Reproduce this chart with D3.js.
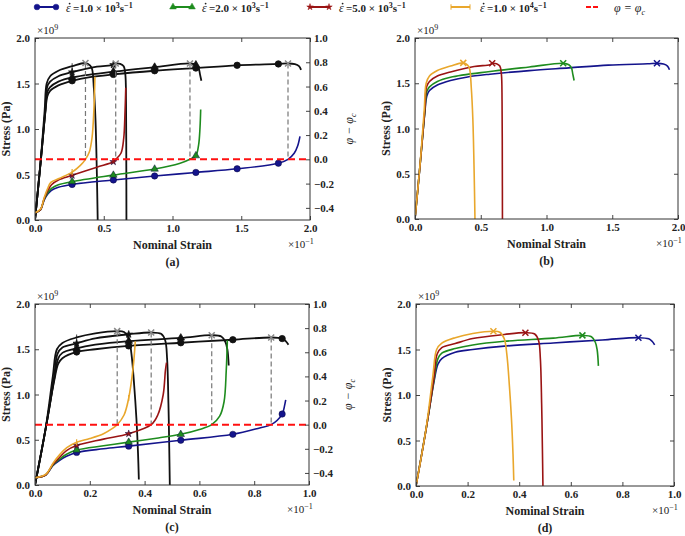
<!DOCTYPE html>
<html>
<head>
<meta charset="utf-8">
<script src="https://cdn.jsdelivr.net/npm/d3@7"></script>
<style>
body { margin: 0; background: #fff; }
svg text { font-family: "Liberation Serif", "DejaVu Serif", serif; font-weight: bold; fill: #222; }
.tick text { font-size: 11px; }
.tick line { stroke: #444; }
</style>
</head>
<body>
<div id="viz"></div>
<script>
"use strict";

var w = 685;
var h = 536;

// strain in 1e-1, stress in 1e9 Pa, phi - phi_c on right axis; third value 1 = marker
var rateNames = ["1.0", "2.0", "5.0", "1.0"];
var ratePowers = ["3", "3", "3", "4"];
var rateColors = ["#14148c", "#1e8c1e", "#9a1414", "#e9a72c"];
var rateMarkers = ["circle", "triangle", "star", "bar"];

// panels (a) and (b): long specimen
var stressAB_1e3 = [[0,0],[0.04,0.62],[0.075,1.18],[0.09,1.36],[0.11,1.42],[0.17,1.48],[0.27,1.53,1],[0.4,1.57],[0.57,1.60,1],[0.87,1.64,1],[1.17,1.67,1],[1.47,1.70,1],[1.77,1.715,1],[1.84,1.72],[1.89,1.712],[1.92,1.69],[1.935,1.65]];
var stressAB_2e3 = [[0,0],[0.04,0.62],[0.075,1.19],[0.09,1.41],[0.11,1.46],[0.17,1.52],[0.27,1.567,1],[0.57,1.63,1],[0.87,1.68,1],[1.127,1.72],[1.17,1.705,1],[1.19,1.67],[1.2,1.6],[1.21,1.53]];
var stressAB_5e3 = [[0,0],[0.04,0.62],[0.075,1.21],[0.088,1.46],[0.11,1.52],[0.17,1.58],[0.27,1.625,1],[0.45,1.685],[0.57,1.705,1],[0.587,1.72],[0.62,1.715],[0.645,1.69],[0.657,1.6],[0.662,1.3],[0.664,0.6],[0.665,0]];
var stressAB_1e4 = [[0,0],[0.04,0.63],[0.07,1.2],[0.085,1.5],[0.11,1.58],[0.17,1.64],[0.27,1.69,1],[0.367,1.725],[0.40,1.70],[0.415,1.66],[0.428,1.45],[0.44,1.1],[0.45,0.5],[0.456,0]];
var failAB = [[1.84,1.72],[1.127,1.72],[0.587,1.72],[0.367,1.725]];

var phiA_1e3 = [[0,-0.44],[0.04,-0.415],[0.065,-0.34],[0.09,-0.29],[0.12,-0.255],[0.17,-0.23],[0.27,-0.207,1],[0.57,-0.17,1],[0.87,-0.137,1],[1.17,-0.108,1],[1.47,-0.078,1],[1.77,-0.032,1],[1.84,0],[1.885,0.05],[1.91,0.11],[1.927,0.19]];
var phiA_2e3 = [[0,-0.44],[0.04,-0.415],[0.065,-0.335],[0.09,-0.28],[0.12,-0.24],[0.17,-0.21],[0.27,-0.184,1],[0.57,-0.13,1],[0.87,-0.08,1],[1.05,-0.035],[1.127,0],[1.17,0.03,1],[1.19,0.12],[1.2,0.26],[1.205,0.41]];
var phiA_5e3 = [[0,-0.44],[0.04,-0.415],[0.065,-0.33],[0.09,-0.265],[0.12,-0.21],[0.17,-0.17],[0.27,-0.132,1],[0.45,-0.065],[0.57,-0.02,1],[0.587,0],[0.625,0.05],[0.645,0.17],[0.655,0.4],[0.66,0.59]];
var phiA_1e4 = [[0,-0.44],[0.04,-0.41],[0.067,-0.315],[0.09,-0.246],[0.115,-0.19],[0.18,-0.156],[0.27,-0.105,1],[0.33,-0.05],[0.367,0],[0.395,0.06],[0.415,0.18],[0.428,0.4],[0.436,0.68]];

// panels (c) and (d): short specimen
var stressCD_1e3 = [[0,0],[0.04,0.64],[0.07,1.15],[0.085,1.34],[0.1,1.4],[0.152,1.47,1],[0.22,1.5],[0.342,1.537,1],[0.532,1.572,1],[0.722,1.605,1],[0.862,1.63],[0.902,1.618,1],[0.915,1.59],[0.925,1.55]];
var stressCD_2e3 = [[0,0],[0.04,0.64],[0.07,1.17],[0.085,1.4],[0.1,1.46],[0.152,1.51,1],[0.22,1.55],[0.342,1.59,1],[0.532,1.625,1],[0.645,1.655],[0.68,1.64],[0.695,1.58],[0.702,1.5],[0.707,1.32]];
var stressCD_5e3 = [[0,0],[0.04,0.64],[0.07,1.2],[0.082,1.45],[0.1,1.52],[0.152,1.565,1],[0.22,1.62],[0.342,1.665,1],[0.424,1.685],[0.46,1.67],[0.475,1.6],[0.482,1.4],[0.487,0.9],[0.49,0.4],[0.492,0]];
var stressCD_1e4 = [[0,0],[0.04,0.65],[0.065,1.2],[0.08,1.5],[0.1,1.57],[0.152,1.63,1],[0.22,1.675],[0.30,1.70],[0.325,1.69],[0.342,1.62,1],[0.352,1.45],[0.362,1.1],[0.37,0.74],[0.376,0.35],[0.379,0.06]];
var failCD = [[0.862,1.63],[0.645,1.655],[0.424,1.685],[0.30,1.70]];

var phiC_1e3 = [[0,-0.44],[0.04,-0.415],[0.065,-0.34],[0.09,-0.295],[0.115,-0.262],[0.152,-0.23,1],[0.25,-0.2],[0.342,-0.178,1],[0.532,-0.129,1],[0.722,-0.08,1],[0.82,-0.027],[0.862,0],[0.902,0.088,1],[0.911,0.16],[0.915,0.205]];
var phiC_2e3 = [[0,-0.44],[0.04,-0.415],[0.065,-0.335],[0.09,-0.285],[0.115,-0.245],[0.152,-0.21,1],[0.25,-0.175],[0.342,-0.145,1],[0.45,-0.11],[0.532,-0.08,1],[0.6,-0.04],[0.645,0],[0.674,0.07],[0.69,0.19],[0.698,0.45],[0.702,0.70]];
var phiC_5e3 = [[0,-0.44],[0.04,-0.415],[0.065,-0.33],[0.09,-0.27],[0.115,-0.215],[0.152,-0.173,1],[0.25,-0.12],[0.342,-0.075,1],[0.424,0],[0.448,0.08],[0.468,0.25],[0.476,0.45],[0.48,0.515]];
var phiC_1e4 = [[0,-0.44],[0.04,-0.41],[0.067,-0.315],[0.091,-0.246],[0.116,-0.19],[0.152,-0.145,1],[0.2,-0.115],[0.25,-0.075],[0.28,-0.035],[0.30,0],[0.325,0.08],[0.342,0.22,1],[0.358,0.47],[0.366,0.69]];

var stressTicks = [0, 0.5, 1.0, 1.5, 2.0];
var phiTicks = [-0.4, -0.2, 0.0, 0.2, 0.4, 0.6, 0.8, 1.0];
var strainTicksAB = [0, 0.5, 1.0, 1.5, 2.0];
var strainTicksCD = [0, 0.2, 0.4, 0.6, 0.8, 1.0];
var phiCritical = 0;

var svg = d3.select("#viz")
  .append("svg")
  .attr("width", w)
  .attr("height", h);

function markerPath(type, k) {
  if (type === "bar") return "M0," + (-3 * k) + "V" + (3 * k);
  var t = {circle: d3.symbolCircle, triangle: d3.symbolTriangle, star: d3.symbolStar}[type];
  var area = {circle: 32, triangle: 24, star: 16}[type];
  return d3.symbol().type(t).size(area * k * k)();
}
var crossPath = "M-3,-3L3,3M-3,3L3,-3";

function drawPanel(o) {
  var g = svg.append("g");
  var x = d3.scaleLinear().domain([0, o.xMax]).range([o.l, o.r]);
  var y = d3.scaleLinear().domain([0, 2]).range([o.b, o.t]);
  var y2 = d3.scaleLinear().domain([-0.5, 1]).range([o.b, o.t]);

  var clipId = "clip" + o.name;
  svg.append("clipPath").attr("id", clipId)
    .append("rect").attr("x", o.l).attr("y", o.t - 4).attr("width", o.r - o.l).attr("height", o.b - o.t + 4);

  var plot = g.append("g").attr("clip-path", "url(#" + clipId + ")");

  var lineS = d3.line().x(function(d) { return x(d[0]); }).y(function(d) { return y(d[1]); })
    .curve(d3.curveCatmullRom.alpha(0.5));
  var lineP = d3.line().x(function(d) { return x(d[0]); }).y(function(d) { return y2(d[1]); })
    .curve(d3.curveCatmullRom.alpha(0.5));

  o.stress.forEach(function(s, i) {
    var col = o.phi ? "#111" : rateColors[i];
    plot.append("path").datum(s).attr("d", lineS)
      .attr("fill", "none").attr("stroke", col).attr("stroke-width", o.phi ? 1.8 : 1.6);
    if (o.phi) {
      plot.selectAll(null).data(s.filter(function(d) { return d[2] === 1; })).enter()
        .append("path")
        .attr("d", markerPath(rateMarkers[i], 1))
        .attr("transform", function(d) { return "translate(" + x(d[0]) + "," + y(d[1]) + ")"; })
        .attr("fill", "#111").attr("stroke", "#111").attr("stroke-width", 0.8);
    }
  });

  if (o.phi) {
    // dashed drops from failure point to the critical line
    plot.selectAll(null).data(o.fail).enter()
      .append("line")
      .attr("x1", function(d) { return x(d[0]); })
      .attr("x2", function(d) { return x(d[0]); })
      .attr("y1", function(d) { return y(d[1]); })
      .attr("y2", y2(phiCritical))
      .attr("stroke", "#777").attr("stroke-width", 1.2).attr("stroke-dasharray", "5,3");

    o.phi.forEach(function(s, i) {
      plot.append("path").datum(s).attr("d", lineP)
        .attr("fill", "none").attr("stroke", rateColors[i]).attr("stroke-width", 1.6);
      plot.selectAll(null).data(s.filter(function(d) { return d[2] === 1; })).enter()
        .append("path")
        .attr("d", markerPath(rateMarkers[i], 1))
        .attr("transform", function(d) { return "translate(" + x(d[0]) + "," + y2(d[1]) + ")"; })
        .attr("fill", rateColors[i]).attr("stroke", i === 3 ? rateColors[i] : "#0a0a40").attr("stroke-width", i === 3 ? 1.2 : 0.5);
    });

    plot.append("line")
      .attr("x1", o.l).attr("x2", o.r)
      .attr("y1", y2(phiCritical)).attr("y2", y2(phiCritical))
      .attr("stroke", "#ff1010").attr("stroke-width", 2).attr("stroke-dasharray", "7,4");
  }

  plot.selectAll(null).data(o.fail).enter()
    .append("path")
    .attr("d", crossPath)
    .attr("transform", function(d) { return "translate(" + x(d[0]) + "," + y(d[1]) + ")"; })
    .attr("fill", "none")
    .attr("stroke", function(d, i) { return o.phi ? "#888" : rateColors[i]; })
    .attr("stroke-width", 1.5);

  // axes, ticks pointing inward
  var fmt = d3.format(".1f");
  g.append("g").attr("transform", "translate(0," + o.b + ")")
    .call(d3.axisBottom(x).tickValues(o.xTicks).tickFormat(fmt).tickSizeInner(-4).tickSizeOuter(0).tickPadding(4))
    .call(function(a) { a.select(".domain").remove(); });
  g.append("g").attr("transform", "translate(0," + o.t + ")")
    .call(d3.axisTop(x).tickValues(o.xTicks).tickFormat("").tickSizeInner(-4).tickSizeOuter(0))
    .call(function(a) { a.select(".domain").remove(); });
  g.append("g").attr("transform", "translate(" + o.l + ",0)")
    .call(d3.axisLeft(y).tickValues(stressTicks).tickFormat(fmt).tickSizeInner(-4).tickSizeOuter(0).tickPadding(5))
    .call(function(a) { a.select(".domain").remove(); });
  if (o.phi) {
    g.append("g").attr("transform", "translate(" + o.r + ",0)")
      .call(d3.axisRight(y2).tickValues(phiTicks).tickFormat(fmt).tickSizeInner(-4).tickSizeOuter(0).tickPadding(4))
      .call(function(a) { a.select(".domain").remove(); });
  } else {
    g.append("g").attr("transform", "translate(" + o.r + ",0)")
      .call(d3.axisRight(y).tickValues(stressTicks).tickFormat("").tickSizeInner(-4).tickSizeOuter(0))
      .call(function(a) { a.select(".domain").remove(); });
  }

  g.append("rect")
    .attr("x", o.l).attr("y", o.t).attr("width", o.r - o.l).attr("height", o.b - o.t)
    .attr("fill", "none").attr("stroke", "#333").attr("stroke-width", 1);

  // labels
  var t9 = g.append("text").attr("x", o.l + 2).attr("y", o.t - 4).attr("font-size", 11).style("font-weight", "normal");
  t9.append("tspan").text("×10");
  t9.append("tspan").attr("dy", -4).attr("font-size", 8).text("9");

  var t1 = g.append("text").attr("x", o.r - 22).attr("y", o.b + 28).attr("font-size", 11).style("font-weight", "normal");
  t1.append("tspan").text("×10");
  t1.append("tspan").attr("dy", -4).attr("font-size", 8).text("−1");

  g.append("text").attr("x", (o.l + o.r) / 2).attr("y", o.b + 29)
    .attr("text-anchor", "middle").attr("font-size", 12).text("Nominal Strain");

  g.append("text")
    .attr("transform", "translate(" + (o.l - 25) + "," + ((o.t + o.b) / 2) + ") rotate(-90)")
    .attr("text-anchor", "middle").attr("font-size", 12).text("Stress (Pa)");

  g.append("text").attr("x", (o.l + o.r) / 2).attr("y", o.b + 46)
    .attr("text-anchor", "middle").attr("font-size", 12).text("(" + o.name + ")");

  if (o.phi) {
    var tp = g.append("text")
      .attr("transform", "translate(" + (o.r + 43) + "," + ((o.t + o.b) / 2) + ") rotate(-90)")
      .attr("text-anchor", "middle").attr("font-size", 12)
      .style("font-style", "italic").style("font-weight", "normal");
    tp.append("tspan").text("φ − φ");
    tp.append("tspan").attr("dy", 3).attr("font-size", 8).text("c");
  }
}

drawPanel({name: "a", l: 35, r: 310, t: 38, b: 220, xMax: 2, xTicks: strainTicksAB,
  stress: [stressAB_1e3, stressAB_2e3, stressAB_5e3, stressAB_1e4],
  phi: [phiA_1e3, phiA_2e3, phiA_5e3, phiA_1e4], fail: failAB});
drawPanel({name: "b", l: 415, r: 678, t: 38, b: 219, xMax: 2, xTicks: strainTicksAB,
  stress: [stressAB_1e3, stressAB_2e3, stressAB_5e3, stressAB_1e4], fail: failAB});
drawPanel({name: "c", l: 35, r: 309, t: 304, b: 485, xMax: 1, xTicks: strainTicksCD,
  stress: [stressCD_1e3, stressCD_2e3, stressCD_5e3, stressCD_1e4],
  phi: [phiC_1e3, phiC_2e3, phiC_5e3, phiC_1e4], fail: failCD});
drawPanel({name: "d", l: 416, r: 674, t: 304, b: 486, xMax: 1, xTicks: strainTicksCD,
  stress: [stressCD_1e3, stressCD_2e3, stressCD_5e3, stressCD_1e4], fail: failCD});

// legend
var legendX = [37, 173, 310, 451];
var legend = svg.append("g");
rateNames.forEach(function(r, i) {
  var x0 = legendX[i], x1 = legendX[i] + 19;
  legend.append("line").attr("x1", x0).attr("x2", x1).attr("y1", 7).attr("y2", 7)
    .attr("stroke", rateColors[i]).attr("stroke-width", 2);
  [x0, x1].forEach(function(px) {
    legend.append("path").attr("d", markerPath(rateMarkers[i], 0.9))
      .attr("transform", "translate(" + px + ",7)")
      .attr("fill", rateColors[i]).attr("stroke", rateColors[i]).attr("stroke-width", i === 3 ? 1 : 0.5);
  });
  var tx = x1 + 10;
  legend.append("text").attr("x", tx).attr("y", 12).attr("font-size", 12)
    .style("font-style", "italic").style("font-weight", "normal").text("ε");
  // dot over epsilon (time derivative)
  legend.append("circle").attr("cx", tx + 3.6).attr("cy", 3.6).attr("r", 0.9).attr("fill", "#222");
  var t = legend.append("text").attr("x", tx + 7).attr("y", 12).attr("font-size", 11);
  t.append("tspan").text(" =" + r + " × 10");
  t.append("tspan").attr("dy", -4).attr("font-size", 8).text(ratePowers[i]);
  t.append("tspan").attr("dy", 4).text("s");
  t.append("tspan").attr("dy", -4).attr("font-size", 8).text("−1");
});
legend.append("line").attr("x1", 586).attr("x2", 598).attr("y1", 7).attr("y2", 7)
  .attr("stroke", "#ff1010").attr("stroke-width", 2).attr("stroke-dasharray", "5,2");
var tl = legend.append("text").attr("x", 614).attr("y", 12).attr("font-size", 12)
  .style("font-style", "italic").style("font-weight", "normal");
tl.append("tspan").text("φ = φ");
tl.append("tspan").attr("dy", 3).attr("font-size", 8).text("c");
</script>
</body>
</html>
